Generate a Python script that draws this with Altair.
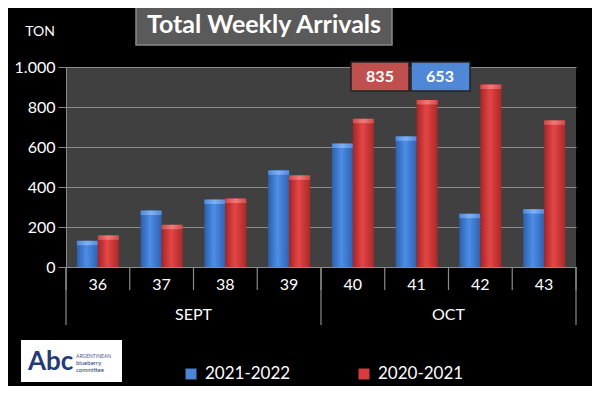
import altair as alt
import pandas as pd

weeks = ["36", "37", "38", "39", "40", "41", "42", "43"]
series = ["2021-2022", "2020-2021"]
values_2122 = [131, 282, 337, 483, 617, 653, 266, 289]
values_2021 = [158, 211, 342, 458, 741, 835, 912, 733]
months = ["SEPT", "OCT"]
month_week_counts = [4, 4]
y_ticks = [0, 200, 400, 600, 800, 1000]
callouts = [("835", "2020-2021"), ("653", "2021-2022")]

W, H = 510, 200
BLUE = "#4a86d8"
RED = "#d83c3c"
FONT = "Lato"

rows = []
for w, a, b in zip(weeks, values_2122, values_2021):
    rows.append({"week": w, "series": series[0], "value": a})
    rows.append({"week": w, "series": series[1], "value": b})
df = pd.DataFrame(rows)

xs = alt.Scale(domain=weeks, paddingInner=0, paddingOuter=0)
xo = alt.Scale(domain=series, paddingInner=0, paddingOuter=0.52)
ys = alt.Scale(domain=[0, 1000], nice=False)

yaxis = alt.Axis(values=y_ticks, labelColor="white", labelFontSize=16,
                 labelFont=FONT, labelPadding=3, tickColor="#8a8a8a",
                 tickSize=8, domainColor="#8a8a8a", grid=True,
                 gridColor="#8a8a8a", gridWidth=1.2, labelOverlap=False,
                 labelBound=False, labelFlush=False,
                 labelExpr="replace(format(datum.value, ','), ',', '.')")

def grad(stops):
    return alt.Gradient(gradient="linear", x1=0, x2=1, y1=0, y2=0,
                        stops=[alt.GradientStop(offset=o, color=c) for o, c in stops])

blue_grad = grad([(0, "#2c5fae"), (0.45, "#4d8ee6"), (1, "#2f62b0")])
red_grad = grad([(0, "#a82424"), (0.45, "#e44646"), (1, "#ac2828")])

base = alt.Chart(df)

def bars(s, g, cap):
    d = base.transform_filter(alt.datum.series == s)
    body = d.mark_bar(fill=g).encode(
        x=alt.X("week:N", scale=xs, axis=None, sort=weeks),
        xOffset=alt.XOffset("series:N", scale=xo, sort=series),
        y=alt.Y("value:Q", scale=ys, title=None, axis=yaxis),
    )
    top = d.transform_calculate(v2="datum.value - 22").mark_bar(fill=cap).encode(
        x=alt.X("week:N", scale=xs, axis=None, sort=weeks),
        xOffset=alt.XOffset("series:N", scale=xo, sort=series),
        y=alt.Y("value:Q", scale=ys, title=None, axis=yaxis),
        y2="v2:Q",
    )
    return body + top

blue_layer = bars(series[0], blue_grad, grad([(0, "#4f8ade"), (0.5, "#7fb2f0"), (1, "#4f8ade")]))
red_layer = bars(series[1], red_grad, grad([(0, "#d44848"), (0.5, "#f07a7a"), (1, "#d44848")]))

# axis separators (band boundaries)
bounds = pd.DataFrame({"b": list(range(len(weeks) + 1))})
sep = alt.Chart(bounds).mark_rule(color="#8a8a8a", strokeWidth=1.2).encode(
    x=alt.X("b:Q", scale=alt.Scale(domain=[0, len(weeks)]), axis=None),
    y=alt.value(H), y2=alt.value(H + 23),
)
mb = [0]
for c in month_week_counts:
    mb.append(mb[-1] + c)
msep = alt.Chart(pd.DataFrame({"b": mb})).mark_rule(color="#8a8a8a", strokeWidth=1.2).encode(
    x=alt.X("b:Q", scale=alt.Scale(domain=[0, len(weeks)]), axis=None),
    y=alt.value(H), y2=alt.value(H + 58),
)
week_lbl = alt.Chart(pd.DataFrame({"week": weeks})).mark_text(
    color="white", fontSize=16, font=FONT, baseline="middle").encode(
    x=alt.X("week:N", scale=xs, axis=None, sort=weeks),
    y=alt.value(H + 18),
    text="week:N",
)
mdf = pd.DataFrame({"month": months,
                    "mid": [(mb[i] + mb[i + 1]) / 2 for i in range(len(months))]})
month_lbl = alt.Chart(mdf).mark_text(
    color="white", fontSize=16, font=FONT, baseline="middle").encode(
    x=alt.X("mid:Q", scale=alt.Scale(domain=[0, len(weeks)]), axis=None),
    y=alt.value(H + 48),
    text="month:N",
)

one = alt.Chart(pd.DataFrame({"a": [0]}))

# title box
title_box = one.mark_rect(fill="#5a5a5a", stroke="#8a8a8a", strokeWidth=1.5).encode(
    x=alt.value(70), x2=alt.value(326), y=alt.value(-62), y2=alt.value(-22))
title_txt = one.mark_text(text="Total Weekly Arrivals", color="white", fontSize=25,
                          fontWeight="bold", font=FONT, baseline="middle").encode(
    x=alt.value(198), y=alt.value(-42))
ton = one.mark_text(text="TON", color="white", fontSize=14, font=FONT,
                    baseline="middle").encode(x=alt.value(-26), y=alt.value(-35))

# callouts
cb1 = one.mark_rect(fill="#c0504d", stroke="#222", strokeWidth=1.5).encode(
    x=alt.value(285), x2=alt.value(343), y=alt.value(-5), y2=alt.value(24))
ct1 = one.mark_text(text=callouts[0][0], color="white", fontSize=16, fontWeight="bold",
                    font=FONT, baseline="middle").encode(x=alt.value(314), y=alt.value(10))
cb2 = one.mark_rect(fill="#4f88d6", stroke="#222", strokeWidth=1.5).encode(
    x=alt.value(345), x2=alt.value(404), y=alt.value(-5), y2=alt.value(24))
ct2 = one.mark_text(text=callouts[1][0], color="white", fontSize=16, fontWeight="bold",
                    font=FONT, baseline="middle").encode(x=alt.value(374), y=alt.value(10))

# legend
leg = pd.DataFrame({"series": series, "sx": [125, 298], "tx": [139, 312]})
leg_sq = alt.Chart(leg).mark_square(size=120, opacity=1).encode(
    x=alt.X("sx:Q", scale=None), y=alt.value(307),
    color=alt.Color("series:N", scale=alt.Scale(domain=series, range=[BLUE, RED]), legend=None),
)
leg_tx = alt.Chart(leg).mark_text(color="white", fontSize=17, font=FONT, align="left",
                                  baseline="middle").encode(
    x=alt.X("tx:Q", scale=None), y=alt.value(307), text="series:N")

# logo
logo_box = one.mark_rect(fill="white").encode(
    x=alt.value(-45), x2=alt.value(56), y=alt.value(273), y2=alt.value(315))
logo_abc = one.mark_text(text="Abc", color="#243a7a", fontSize=26, fontWeight="bold",
                         font=FONT, align="left", baseline="middle").encode(
    x=alt.value(-38), y=alt.value(295))
logo_t1 = one.mark_text(text="ARGENTINEAN", color="#4a5a8a", fontSize=5, font=FONT,
                        align="left", baseline="middle").encode(x=alt.value(10), y=alt.value(289))
logo_t2 = one.mark_text(text="blueberry", color="#243a7a", fontSize=6, font=FONT,
                        align="left", baseline="middle").encode(x=alt.value(10), y=alt.value(296))
logo_t3 = one.mark_text(text="committee", color="#243a7a", fontSize=6, font=FONT,
                        align="left", baseline="middle").encode(x=alt.value(10), y=alt.value(303))

chart = alt.layer(
    blue_layer, red_layer, sep, msep, week_lbl, month_lbl,
    title_box, title_txt, ton, cb1, ct1, cb2, ct2, leg_sq, leg_tx,
    logo_box, logo_abc, logo_t1, logo_t2, logo_t3,
).resolve_scale(x="independent", xOffset="independent", color="independent").properties(
    width=W, height=H,
    autosize=alt.AutoSizeParams(type="none"),
    padding={"left": 58, "top": 59, "right": 16, "bottom": 119},
    background="black",
).configure_view(fill="#404040", stroke=None)

chart.save("out.html", embed_options={"renderer": "svg", "actions": False})
